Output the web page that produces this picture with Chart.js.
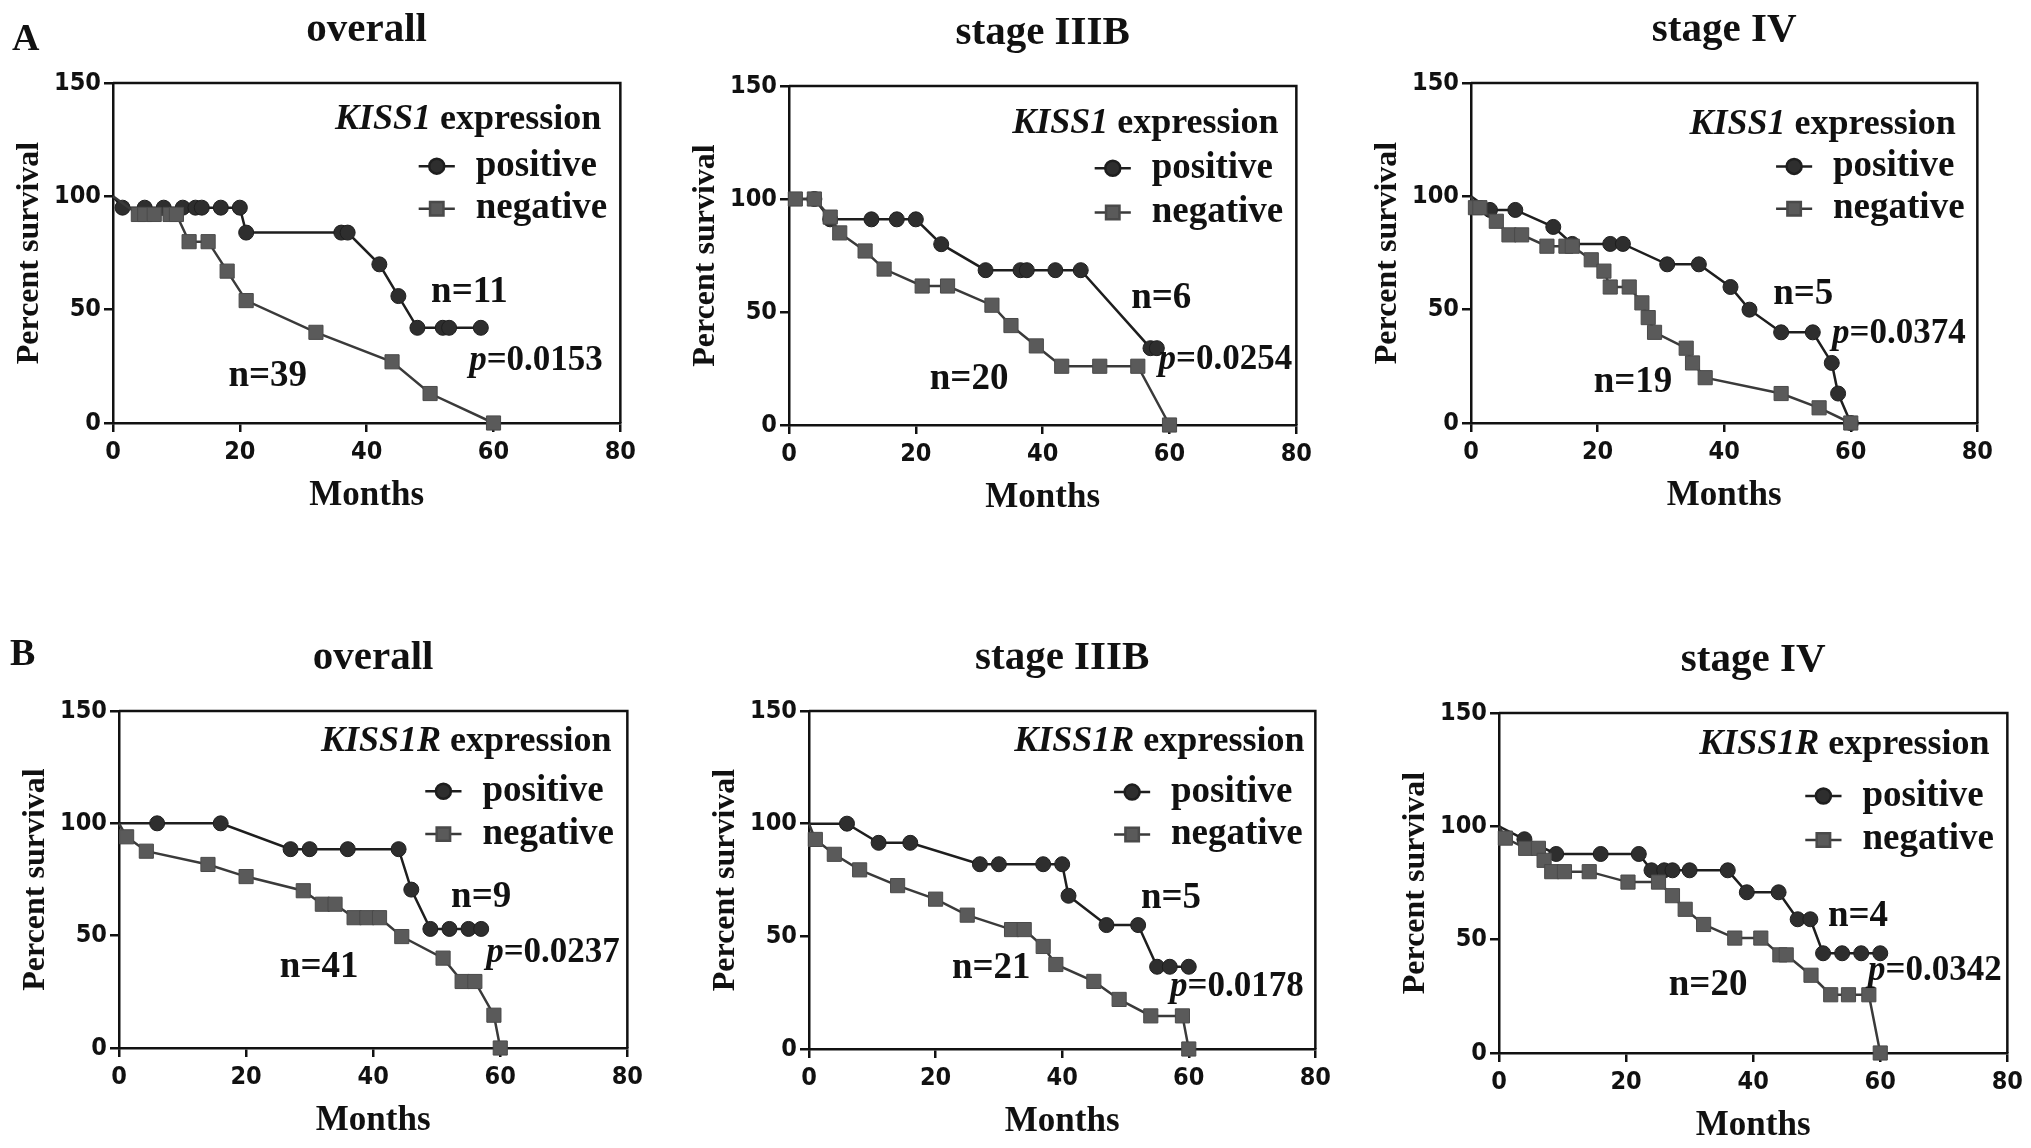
<!DOCTYPE html>
<html>
<head>
<meta charset="utf-8">
<script src="https://cdn.jsdelivr.net/npm/chart.js@4.4.1/dist/chart.umd.min.js"></script>
<style>
html, body { margin: 0; padding: 0; background: #fff; }
body { width: 2031px; height: 1148px; position: relative; overflow: hidden; }
canvas { position: absolute; }
</style>
</head>
<body>
<script>
// ---- data (months, percent survival) ----
const xTicks = [0, 20, 40, 60, 80];
const yTicks = [0, 50, 100, 150];

// A: KISS1
const a1PosMonths = [0, 1.5, 5, 8, 11, 13, 14, 17, 20, 21, 36, 37, 42, 45, 48, 52, 53, 58];
const a1PosSurv   = [100, 95, 95, 95, 95, 95, 95, 95, 95, 84, 84, 84, 70, 56, 42, 42, 42, 42];
const a1NegMonths = [0, 4, 5, 6.5, 9, 10, 12, 15, 18, 21, 32, 44, 50, 60];
const a1NegSurv   = [100, 92, 92, 92, 92, 92, 80, 80, 67, 54, 40, 27, 13, 0];

const a2PosMonths = [0, 4, 6.5, 13, 17, 20, 24, 31, 36.5, 37.5, 42, 46, 57, 58];
const a2PosSurv   = [100, 100, 91, 91, 91, 91, 80, 68.5, 68.5, 68.5, 68.5, 68.5, 34, 34];
const a2NegMonths = [0, 1, 4, 6.5, 8, 12, 15, 21, 25, 32, 35, 39, 43, 49, 55, 60];
const a2NegSurv   = [100, 100, 100, 92, 85, 77, 69, 61.5, 61.5, 53, 44, 35, 26, 26, 26, 0];

const a3PosMonths = [0, 3, 7, 13, 16, 22, 24, 31, 36, 41, 44, 49, 54, 57, 58, 60];
const a3PosSurv   = [100, 94, 94, 86.5, 79, 79, 79, 70, 70, 60, 50, 40, 40, 26.5, 13, 0];
const a3NegMonths = [0, 0.7, 1.4, 4, 6, 8, 12, 15, 16, 19, 21, 22, 25, 27, 28, 29, 34, 35, 37, 49, 55, 60];
const a3NegSurv   = [100, 95, 95, 89, 83, 83, 78, 78, 78, 72, 67, 60, 60, 53, 46.5, 40, 33, 26.5, 20, 13, 6.7, 0];

// B: KISS1R
const b1PosMonths = [0, 6, 16, 27, 30, 36, 44, 46, 49, 52, 55, 57];
const b1PosSurv   = [100, 100, 100, 88.5, 88.5, 88.5, 88.5, 70.5, 53, 53, 53, 53];
const b1NegMonths = [0, 1.2, 4.3, 14, 20, 29, 32, 34, 37, 39, 41, 44.5, 51, 54, 56, 59, 60];
const b1NegSurv   = [100, 94, 87.6, 81.7, 76.3, 70, 64, 64, 58, 58, 58, 49.6, 40, 29.6, 29.6, 14.6, 0];

const b2PosMonths = [0, 6, 11, 16, 27, 30, 37, 40, 41, 47, 52, 55, 57, 60];
const b2PosSurv   = [100, 100, 91.5, 91.5, 82, 82, 82, 82, 68, 55, 55, 36.5, 36.5, 36.5];
const b2NegMonths = [0, 1, 4, 8, 14, 20, 25, 32, 34, 37, 39, 45, 49, 54, 59, 60];
const b2NegSurv   = [100, 93, 86.4, 79.5, 72.5, 66.5, 59.4, 53, 53, 45.5, 37.5, 30, 22, 14.7, 14.7, 0];

const b3PosMonths = [0, 4, 9, 16, 22, 24, 26, 27.3, 30, 36, 39, 44, 47, 49, 51, 54, 57, 60];
const b3PosSurv   = [100, 94.3, 87.8, 87.8, 87.8, 80.6, 80.6, 80.6, 80.6, 80.6, 70.9, 70.9, 59, 59, 44, 44, 44, 44];
const b3NegMonths = [0, 1, 4.2, 6.2, 7.1, 8.3, 10.3, 14.2, 20.3, 25.1, 27.3, 29.3, 32.2, 37.1, 41.2, 44.2, 45.2, 49.1, 52.2, 55, 58.2, 60];
const b3NegSurv   = [100, 94.8, 90.3, 90.3, 85, 80, 80, 80, 75.4, 75.4, 69.4, 63.4, 56.7, 50.7, 50.7, 43.3, 43.3, 34.3, 25.7, 25.7, 25.7, 0];

const titles = ['overall', 'stage IIIB', 'stage IV', 'overall', 'stage IIIB', 'stage IV'];
const genes = ['KISS1', 'KISS1', 'KISS1', 'KISS1R', 'KISS1R', 'KISS1R'];
const nPosLabels = ['n=11', 'n=6', 'n=5', 'n=9', 'n=5', 'n=4'];
const nNegLabels = ['n=39', 'n=20', 'n=19', 'n=41', 'n=21', 'n=20'];
const pValues = ['0.0153', '0.0254', '0.0374', '0.0237', '0.0178', '0.0342'];

// ---- layout ----
const SERIF = "'Liberation Serif', 'Times New Roman', serif";
const TICK_FONT = "'Liberation Sans Narrow', 'DejaVu Sans Condensed', 'Liberation Sans', Arial, sans-serif";
const INK = '#111';
const PAD_L = 11, Y_AXIS_W = 102, PAD_T = 83, X_AXIS_H = 94, PAD_R = 20, PAD_B = 4;

// plot box of each panel in page pixels, plus where the texts sit (in axis units)
const panels = [
  { left: 113, top: 83, w: 508, h: 340, pos: [a1PosMonths, a1PosSurv], neg: [a1NegMonths, a1NegSurv],
    letter: ['A', 12, 50], head: [77, 129.5], entries: [113.3, 94.5], nPos: [56.2, 53.2], nNeg: [24.4, 16.5], p: [66.7, 23.5] },
  { left: 789, top: 86, w: 508, h: 339, pos: [a2PosMonths, a2PosSurv], neg: [a2NegMonths, a2NegSurv],
    head: [77.2, 129.4], entries: [113.6, 94], nPos: [58.7, 51.9], nNeg: [28.4, 15.8], p: [68.8, 24.8] },
  { left: 1471, top: 83, w: 507, h: 340, pos: [a3PosMonths, a3PosSurv], neg: [a3NegMonths, a3NegSurv],
    head: [76.6, 127.5], entries: [113.2, 94.5], nPos: [52.5, 52.5], nNeg: [25.6, 13.5], p: [67.6, 35.2] },
  { left: 119, top: 711, w: 509, h: 337, pos: [b1PosMonths, b1PosSurv], neg: [b1NegMonths, b1NegSurv],
    letter: ['B', 4, 37], head: [77.5, 132.4], entries: [114.3, 95.2], nPos: [57, 62.7], nNeg: [31.5, 31.6], p: [68.3, 38.4] },
  { left: 809, top: 711, w: 507, h: 338, pos: [b2PosMonths, b2PosSurv], neg: [b2NegMonths, b2NegSurv],
    head: [78.3, 132.4], entries: [114, 95.2], nPos: [57.2, 62.4], nNeg: [28.8, 31.6], p: [67.6, 23.4] },
  { left: 1499, top: 713, w: 509, h: 340, pos: [b3PosMonths, b3PosSurv], neg: [b3NegMonths, b3NegSurv],
    head: [77.2, 132], entries: [113.4, 94], nPos: [56.5, 56], nNeg: [32.9, 25.4], p: [68.6, 32.1] }
];

function points(months, surv) {
  return months.map((m, i) => ({ x: m, y: surv[i] }));
}

// box round the plot: top and right edges (left/bottom come from the axes)
const frame = {
  id: 'frame',
  beforeDatasetsDraw(chart) {
    const { ctx, chartArea: a } = chart;
    ctx.save();
    ctx.strokeStyle = INK;
    ctx.lineWidth = 2.5;
    ctx.beginPath();
    ctx.moveTo(a.left, a.top);
    ctx.lineTo(a.right, a.top);
    ctx.lineTo(a.right, a.bottom);
    ctx.stroke();
    ctx.restore();
  }
};

// title, legend, n and p labels
const panelText = {
  id: 'panelText',
  afterDraw(chart, args, o) {
    const { ctx, chartArea: a, scales: { x, y } } = chart;
    ctx.save();
    ctx.fillStyle = INK;
    ctx.textBaseline = 'alphabetic';

    ctx.font = `bold 41px ${SERIF}`;
    ctx.textAlign = 'center';
    ctx.fillText(o.title, (a.left + a.right) / 2, a.top - 42);

    if (o.letter) {
      ctx.font = `bold 38px ${SERIF}`;
      ctx.textAlign = 'left';
      ctx.fillText(o.letter[0], o.letter[1], o.letter[2]);
    }

    // legend header: italic gene name + " expression"
    const hx = x.getPixelForValue(o.head[0]);
    const hy = y.getPixelForValue(o.head[1]);
    ctx.font = `bold 36px ${SERIF}`;
    ctx.textAlign = 'right';
    const tail = ' expression';
    ctx.fillText(tail, hx, hy);
    const tw = ctx.measureText(tail).width;
    ctx.font = `italic bold 36px ${SERIF}`;
    ctx.fillText(o.gene, hx - tw, hy);

    // legend entries
    const x1 = x.getPixelForValue(48.2), x2 = x.getPixelForValue(53.9);
    const tx = x.getPixelForValue(57.2);
    chart.data.datasets.forEach((ds, i) => {
      const ey = y.getPixelForValue(o.entries[i]);
      ctx.strokeStyle = ds.borderColor;
      ctx.lineWidth = ds.borderWidth;
      ctx.beginPath();
      ctx.moveTo(x1, ey);
      ctx.lineTo(x2, ey);
      ctx.stroke();
      ctx.fillStyle = ds.pointBackgroundColor;
      ctx.strokeStyle = ds.pointBorderColor;
      Chart.helpers.drawPoint(ctx, { pointStyle: ds.pointStyle, radius: ds.markerSize, borderWidth: 1, rotation: 0 }, (x1 + x2) / 2, ey);
      ctx.fillStyle = INK;
      ctx.font = `bold 37px ${SERIF}`;
      ctx.textAlign = 'left';
      ctx.textBaseline = 'middle';
      ctx.fillText(ds.label, tx, ey);
      ctx.textBaseline = 'alphabetic';
    });

    // group sizes
    ctx.font = `bold 37px ${SERIF}`;
    ctx.textAlign = 'center';
    ctx.fillText(o.nPos[2], x.getPixelForValue(o.nPos[0]), y.getPixelForValue(o.nPos[1]));
    ctx.fillText(o.nNeg[2], x.getPixelForValue(o.nNeg[0]), y.getPixelForValue(o.nNeg[1]));

    // p value: italic p, then the number
    ctx.textAlign = 'left';
    ctx.font = `italic bold 35px ${SERIF}`;
    const pw = ctx.measureText('p').width;
    ctx.font = `bold 35px ${SERIF}`;
    const rest = '=' + o.p[2];
    const rw = ctx.measureText(rest).width;
    const px = x.getPixelForValue(o.p[0]) - (pw + rw) / 2;
    const py = y.getPixelForValue(o.p[1]);
    ctx.font = `italic bold 35px ${SERIF}`;
    ctx.fillText('p', px, py);
    ctx.font = `bold 35px ${SERIF}`;
    ctx.fillText(rest, px + pw, py);
    ctx.restore();
  }
};

function axis(min, max, step, titleText, titleSize, fit) {
  return {
    type: 'linear',
    min: min,
    max: max,
    afterBuildTicks: s => { s.ticks = (step === 20 ? xTicks : yTicks).map(v => ({ value: v })); },
    ticks: { color: INK, font: { family: TICK_FONT, size: 25, weight: 'bold' }, padding: step === 20 ? 5 : 3 },
    grid: { drawOnChartArea: false, drawTicks: true, tickLength: 9, color: INK, lineWidth: 2.5 },
    border: { display: true, color: INK, width: 2.5 },
    title: { display: true, text: titleText, color: INK, padding: 0,
             font: { family: SERIF, size: titleSize, weight: 'bold', lineHeight: 1.2 } },
    afterFit: fit
  };
}

panels.forEach((p, k) => {
  const canvas = document.createElement('canvas');
  const cw = PAD_L + Y_AXIS_W + p.w + PAD_R;
  const ch = PAD_T + p.h + X_AXIS_H + PAD_B;
  canvas.width = cw;
  canvas.height = ch;
  canvas.style.left = (p.left - PAD_L - Y_AXIS_W) + 'px';
  canvas.style.top = (p.top - PAD_T) + 'px';
  document.body.appendChild(canvas);

  new Chart(canvas.getContext('2d'), {
    type: 'line',
    data: {
      datasets: [
        {
          label: 'positive',
          data: points(p.pos[0], p.pos[1]),
          borderColor: '#1e1e1e',
          borderWidth: 2.5,
          pointStyle: 'circle',
          pointBackgroundColor: '#2e2e2e',
          pointBorderColor: '#1e1e1e',
          pointBorderWidth: 1,
          pointRadius: c => c.dataIndex === 0 ? 0 : 7.5,
          markerSize: 7.5,
          tension: 0,
          clip: false,
          order: 1
        },
        {
          label: 'negative',
          data: points(p.neg[0], p.neg[1]),
          borderColor: '#3a3a3a',
          borderWidth: 2.5,
          pointStyle: 'rect',
          pointBackgroundColor: '#5a5a5a',
          pointBorderColor: '#4a4a4a',
          pointBorderWidth: 1,
          pointRadius: c => c.dataIndex === 0 ? 0 : 10,
          markerSize: 9.5,
          tension: 0,
          clip: false,
          order: 0
        }
      ]
    },
    options: {
      responsive: false,
      animation: false,
      events: [],
      layout: { padding: { left: PAD_L, top: PAD_T, right: PAD_R, bottom: PAD_B } },
      scales: {
        x: axis(0, 80, 20, 'Months', 35, s => { s.height = X_AXIS_H; }),
        y: axis(0, 150, 50, 'Percent survival', 32, s => { s.width = Y_AXIS_W; })
      },
      plugins: {
        legend: { display: false },
        tooltip: { enabled: false },
        panelText: {
          title: titles[k],
          gene: genes[k],
          letter: p.letter,
          head: p.head,
          entries: p.entries,
          nPos: [p.nPos[0], p.nPos[1], nPosLabels[k]],
          nNeg: [p.nNeg[0], p.nNeg[1], nNegLabels[k]],
          p: [p.p[0], p.p[1], pValues[k]]
        }
      }
    },
    plugins: [frame, panelText]
  });
});
</script>
</body>
</html>
